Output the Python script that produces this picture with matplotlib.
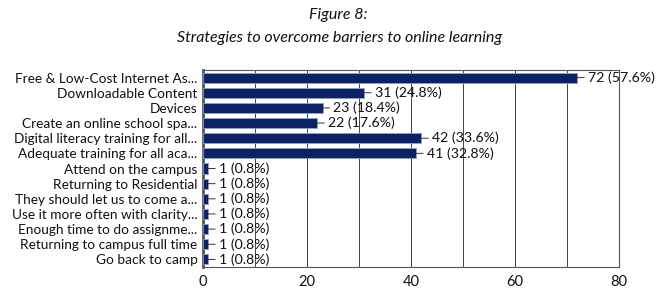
from matplotlib import pyplot as plt

CATEGORIES = [
    "Free & Low-Cost Internet As...",
    "Downloadable Content",
    "Devices",
    "Create an online school spa...",
    "Digital literacy training for all...",
    "Adequate training for all aca...",
    "Attend on the campus",
    "Returning to Residential",
    "They should let us to come a...",
    "Use it more often with clarity...",
    "Enough time to do assignme...",
    "Returning to campus full time",
    "Go back to camp",
]
COUNTS = [72, 31, 23, 22, 42, 41, 1, 1, 1, 1, 1, 1, 1]
PERCENTS = [57.6, 24.8, 18.4, 17.6, 33.6, 32.8, 0.8, 0.8, 0.8, 0.8, 0.8, 0.8, 0.8]
X_TICKS = [0, 20, 40, 60, 80]

BAR_COLOR = "#0b2266"
TEXT_COLOR = "#111111"

plt.rcParams['font.family'] = ['Lato', 'DejaVu Sans']

fig = plt.figure(figsize=(6.72, 2.93), dpi=100)
ax = fig.add_axes([203 / 672, 1 - 267 / 293, 416 / 672, 197 / 293])

y = list(range(len(CATEGORIES)))
ax.barh(y, COUNTS, height=0.66, color=BAR_COLOR, edgecolor="#8fa0c8",
        linewidth=0.6, zorder=3)

for yi, val, pct in zip(y, COUNTS, PERCENTS):
    ax.annotate(f"{val} ({pct}%)", xy=(val, yi), xytext=(7.5, 0),
                textcoords="offset points", ha="left", va="center",
                fontsize=10.2, color=TEXT_COLOR, zorder=4,
                arrowprops=dict(arrowstyle="-", color="#333333", lw=0.7,
                                shrinkA=0.5, shrinkB=0))

ax.set_yticks(y)
ax.set_yticklabels(CATEGORIES, fontsize=9.8, color=TEXT_COLOR)
ax.set_ylim(len(CATEGORIES) - 0.5, -0.5)
ax.set_xlim(0, 80)
ax.set_xticks(X_TICKS)
ax.set_xticks(range(0, 81, 10), minor=True)
ax.tick_params(axis="x", labelsize=10.5, colors=TEXT_COLOR, length=0, pad=6)
ax.tick_params(axis="x", which="minor", length=0)
ax.tick_params(axis="y", length=0, pad=4)
ax.grid(axis="x", which="both", color="#444444", linewidth=0.7, zorder=0)

for side in ["top", "right", "bottom"]:
    ax.spines[side].set_color("#555555")
    ax.spines[side].set_linewidth(0.8)
ax.spines["left"].set_color("#555555")
ax.spines["left"].set_linewidth(2)

fig.text(338 / 672, 1 - 15 / 293, "Figure 8:", ha="center", va="center",
         fontsize=11.5, style="italic", color=TEXT_COLOR)
fig.text(340 / 672, 1 - 38 / 293,
         "Strategies to overcome barriers to online learning",
         ha="center", va="center", fontsize=11.5, style="italic", color=TEXT_COLOR)

fig.savefig("out.png", dpi=100)
